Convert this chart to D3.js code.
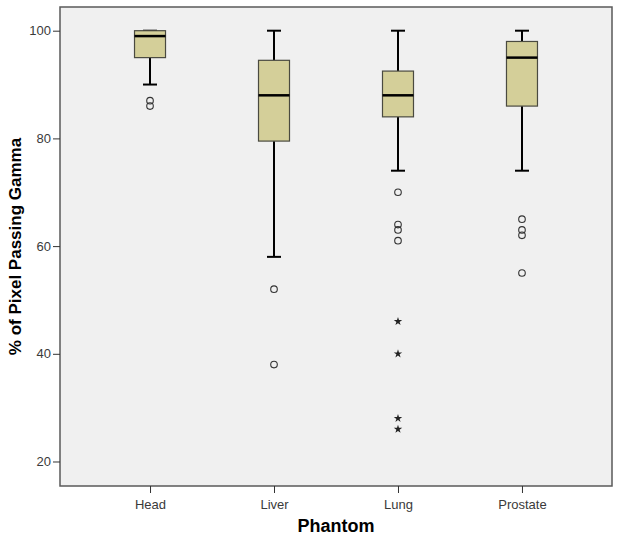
<!DOCTYPE html>
<html><head><meta charset="utf-8">
<script src="https://cdn.jsdelivr.net/npm/d3@7"></script>
<style>body{margin:0;background:#fff;}svg{display:block;font-family:Arial,"Liberation Sans",sans-serif;}</style>
</head><body>
<script>
const categories = ["Head", "Liver", "Lung", "Prostate"];
const whiskerLow  = [90, 58, 74, 74];
const q1          = [95, 79.5, 84, 86];
const median      = [99, 88, 88, 95];
const q3          = [100, 94.5, 92.5, 98];
const whiskerHigh = [100, 100, 100, 100];
const outliers = [[86, 87], [52, 38], [70, 64, 63, 61], [65, 63, 62, 55]];
const extremes = [[], [], [46, 40, 28, 26], []];
const yTicks = [20, 40, 60, 80, 100];

const W = 619, H = 539;
const m = {left: 60, top: 7, right: 612, bottom: 486};
const svg = d3.select("body").append("svg").attr("width", W).attr("height", H);

const x = d3.scalePoint().domain(categories).range([m.left, m.right]).padding(0.726);
const y = d3.scaleLinear().domain([15.45, 104.4]).range([m.bottom, m.top]);

svg.append("rect").attr("x", m.left).attr("y", m.top).attr("width", m.right - m.left).attr("height", m.bottom - m.top)
  .attr("fill", "#f0f0f0").attr("stroke", "#5a5a5a").attr("stroke-width", 1.5);

const yAxis = svg.append("g").attr("transform", `translate(${m.left},0)`)
  .call(d3.axisLeft(y).tickValues(yTicks).tickSize(7).tickPadding(2).tickFormat(d3.format("d")));
yAxis.select(".domain").remove();
yAxis.selectAll("line").attr("stroke", "#333");
yAxis.selectAll("text").attr("font-size", 13).attr("fill", "#3a3a3a").attr("font-family", "Arial, Liberation Sans, sans-serif");

const xAxis = svg.append("g").attr("transform", `translate(0,${m.bottom})`)
  .call(d3.axisBottom(x).tickSize(7).tickPadding(7));
xAxis.select(".domain").remove();
xAxis.selectAll("line").attr("stroke", "#333");
xAxis.selectAll("text").attr("font-size", 13).attr("fill", "#3a3a3a").attr("font-family", "Arial, Liberation Sans, sans-serif");

const bw = 31, cap = 14;
categories.forEach((c, i) => {
  const cx = x(c);
  const g = svg.append("g");
  g.append("line").attr("x1", cx).attr("x2", cx).attr("y1", y(whiskerHigh[i])).attr("y2", y(q3[i])).attr("stroke", "#000").attr("stroke-width", 2);
  g.append("line").attr("x1", cx).attr("x2", cx).attr("y1", y(q1[i])).attr("y2", y(whiskerLow[i])).attr("stroke", "#000").attr("stroke-width", 2);
  g.append("line").attr("x1", cx - cap/2).attr("x2", cx + cap/2).attr("y1", y(whiskerHigh[i])).attr("y2", y(whiskerHigh[i])).attr("stroke", "#000").attr("stroke-width", 2);
  g.append("line").attr("x1", cx - cap/2).attr("x2", cx + cap/2).attr("y1", y(whiskerLow[i])).attr("y2", y(whiskerLow[i])).attr("stroke", "#000").attr("stroke-width", 2);
  g.append("rect").attr("x", cx - bw/2).attr("y", y(q3[i])).attr("width", bw).attr("height", y(q1[i]) - y(q3[i]))
    .attr("fill", "#d4cf99").attr("stroke", "#4a4a40").attr("stroke-width", 1.2);
  g.append("line").attr("x1", cx - bw/2).attr("x2", cx + bw/2).attr("y1", y(median[i])).attr("y2", y(median[i])).attr("stroke", "#000").attr("stroke-width", 2.5);
  outliers[i].forEach(v => {
    g.append("circle").attr("cx", cx).attr("cy", y(v)).attr("r", 3.3).attr("fill", "none").attr("stroke", "#333").attr("stroke-width", 1.1);
  });
  extremes[i].forEach(v => {
    g.append("path").attr("d", d3.symbol(d3.symbolStar, 22)()).attr("transform", `translate(${cx},${y(v)})`).attr("fill", "#222");
  });
});

svg.append("text").attr("x", (m.left + m.right) / 2).attr("y", 532).attr("text-anchor", "middle")
  .attr("font-size", 18).attr("font-weight", "bold").attr("fill", "#000").text("Phantom");
svg.append("text").attr("transform", `translate(21,${(m.top + m.bottom) / 2}) rotate(-90)`).attr("text-anchor", "middle")
  .attr("font-size", 17).attr("font-weight", "bold").attr("fill", "#000").text("% of Pixel Passing Gamma");
</script>
</body></html>
